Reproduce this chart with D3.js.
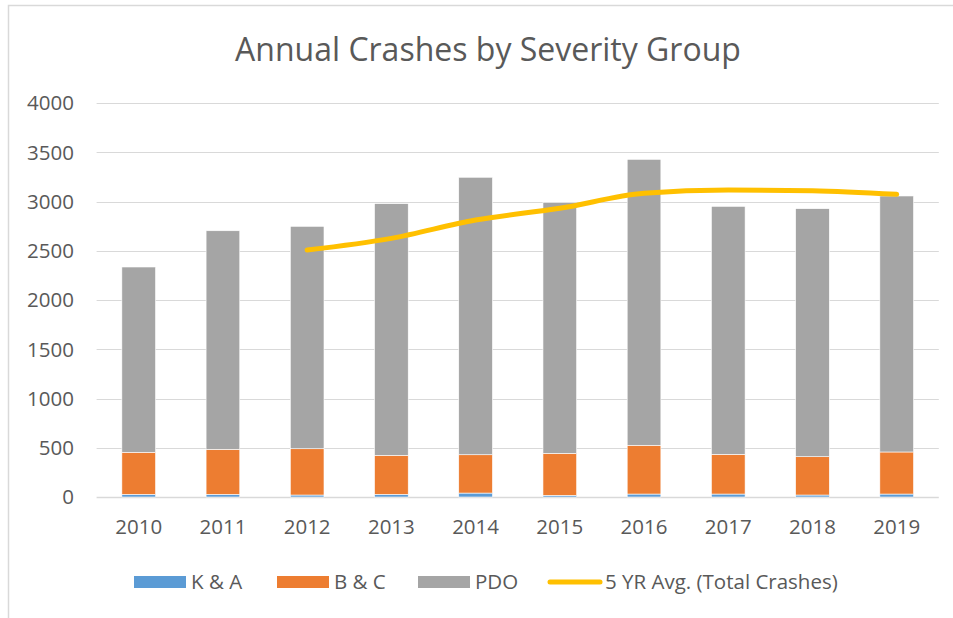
<!DOCTYPE html>
<html>
<head>
<meta charset="utf-8">
<script src="https://cdn.jsdelivr.net/npm/d3@7"></script>
<style>
  body { margin: 0; background: #fff; }
  text { font-family: "Open Sans", sans-serif; fill: #595959; }
</style>
</head>
<body>
<svg width="953" height="618"></svg>
<script>
var years = ["2010","2011","2012","2013","2014","2015","2016","2017","2018","2019"];
var ka  = [27, 27, 20, 27, 40, 17, 30, 30, 20, 30];
var bc  = [427, 457, 470, 396, 389, 426, 495, 403, 389, 427];
var pdo = [1881, 2219, 2258, 2555, 2817, 2549, 2903, 2518, 2518, 2599];
var avgYears = ["2012","2013","2014","2015","2016","2017","2018","2019"];
var avg5 = [2508, 2626, 2812, 2931, 3083, 3117, 3110, 3073];
var yTicks = [0, 500, 1000, 1500, 2000, 2500, 3000, 3500, 4000];

var keys = ["K & A", "B & C", "PDO"];
var colors = {"K & A": "#5b9bd5", "B & C": "#ed7d31", "PDO": "#a5a5a5"};

var svg = d3.select("svg");

// chart frame (cropped at right/bottom)
svg.append("path")
    .attr("d", "M8.5,618V5.5H953")
    .attr("fill", "none")
    .attr("stroke", "#d9d9d9")
    .attr("stroke-width", 1.5);

var x = d3.scaleBand().domain(years).range([96.6, 938.8]).paddingInner(0.6).paddingOuter(0.3);
var y = d3.scaleLinear().domain([0, 4000]).range([497, 103]);

// gridlines
svg.append("g").selectAll("line")
  .data(yTicks)
  .enter().append("line")
    .attr("x1", 96.6).attr("x2", 938.8)
    .attr("y1", function(d) { return Math.round(y(d)) + 0.5; })
    .attr("y2", function(d) { return Math.round(y(d)) + 0.5; })
    .attr("stroke", "#d9d9d9")
    .attr("stroke-width", function(d) { return d === 0 ? 1.5 : 1; });

// y labels
svg.append("g").selectAll("text")
  .data(yTicks)
  .enter().append("text")
    .attr("x", 74)
    .attr("y", function(d) { return y(d); })
    .attr("dy", "0.36em")
    .attr("text-anchor", "end")
    .style("font-size", "20.5px")
    .text(function(d) { return d; });

// x labels
svg.append("g").selectAll("text")
  .data(years)
  .enter().append("text")
    .attr("x", function(d) { return x(d) + x.bandwidth() / 2; })
    .attr("y", 534)
    .attr("text-anchor", "middle")
    .style("font-size", "20.5px")
    .text(function(d) { return d; });

// stacked bars
var rows = years.map(function(yr, i) {
  return {year: yr, "K & A": ka[i], "B & C": bc[i], "PDO": pdo[i]};
});
var series = d3.stack().keys(keys)(rows);

svg.append("g").selectAll("g")
  .data(series)
  .enter().append("g")
    .attr("fill", function(d) { return colors[d.key]; })
  .selectAll("rect")
  .data(function(d) { return d; })
  .enter().append("rect")
    .attr("x", function(d) { return x(d.data.year); })
    .attr("y", function(d) { return y(d[1]); })
    .attr("height", function(d) { return y(d[0]) - y(d[1]); })
    .attr("width", x.bandwidth())
    .attr("stroke", "#fff")
    .attr("stroke-width", 0.6);

// 5 yr average line
var line = d3.line()
    .x(function(d, i) { return x(avgYears[i]) + x.bandwidth() / 2; })
    .y(function(d) { return y(d); })
    .curve(d3.curveMonotoneX);

svg.append("path")
    .datum(avg5)
    .attr("d", line)
    .attr("fill", "none")
    .attr("stroke", "#ffc000")
    .attr("stroke-width", 5)
    .attr("stroke-linecap", "round")
    .attr("stroke-linejoin", "round");

// title
svg.append("text")
    .attr("x", 488)
    .attr("y", 61)
    .attr("text-anchor", "middle")
    .style("font-size", "32px")
    .text("Annual Crashes by Severity Group");

// legend
var legendItems = [
  {label: "K & A", color: colors["K & A"], x: 134, type: "rect"},
  {label: "B & C", color: colors["B & C"], x: 277, type: "rect"},
  {label: "PDO", color: colors["PDO"], x: 418, type: "rect"},
  {label: "5 YR Avg. (Total Crashes)", color: "#ffc000", x: 548, type: "line"}
];
var legend = svg.append("g").selectAll("g")
  .data(legendItems)
  .enter().append("g")
    .attr("transform", function(d) { return "translate(" + d.x + ",582)"; });

legend.filter(function(d) { return d.type === "rect"; })
  .append("rect")
    .attr("x", 0).attr("y", -6)
    .attr("width", 52).attr("height", 12)
    .attr("fill", function(d) { return d.color; });

legend.filter(function(d) { return d.type === "line"; })
  .append("line")
    .attr("x1", 2).attr("x2", 52)
    .attr("stroke", function(d) { return d.color; })
    .attr("stroke-width", 5)
    .attr("stroke-linecap", "round");

legend.append("text")
    .attr("x", 57)
    .attr("dy", "0.36em")
    .style("font-size", "20.5px")
    .text(function(d) { return d.label; });
</script>
</body>
</html>
